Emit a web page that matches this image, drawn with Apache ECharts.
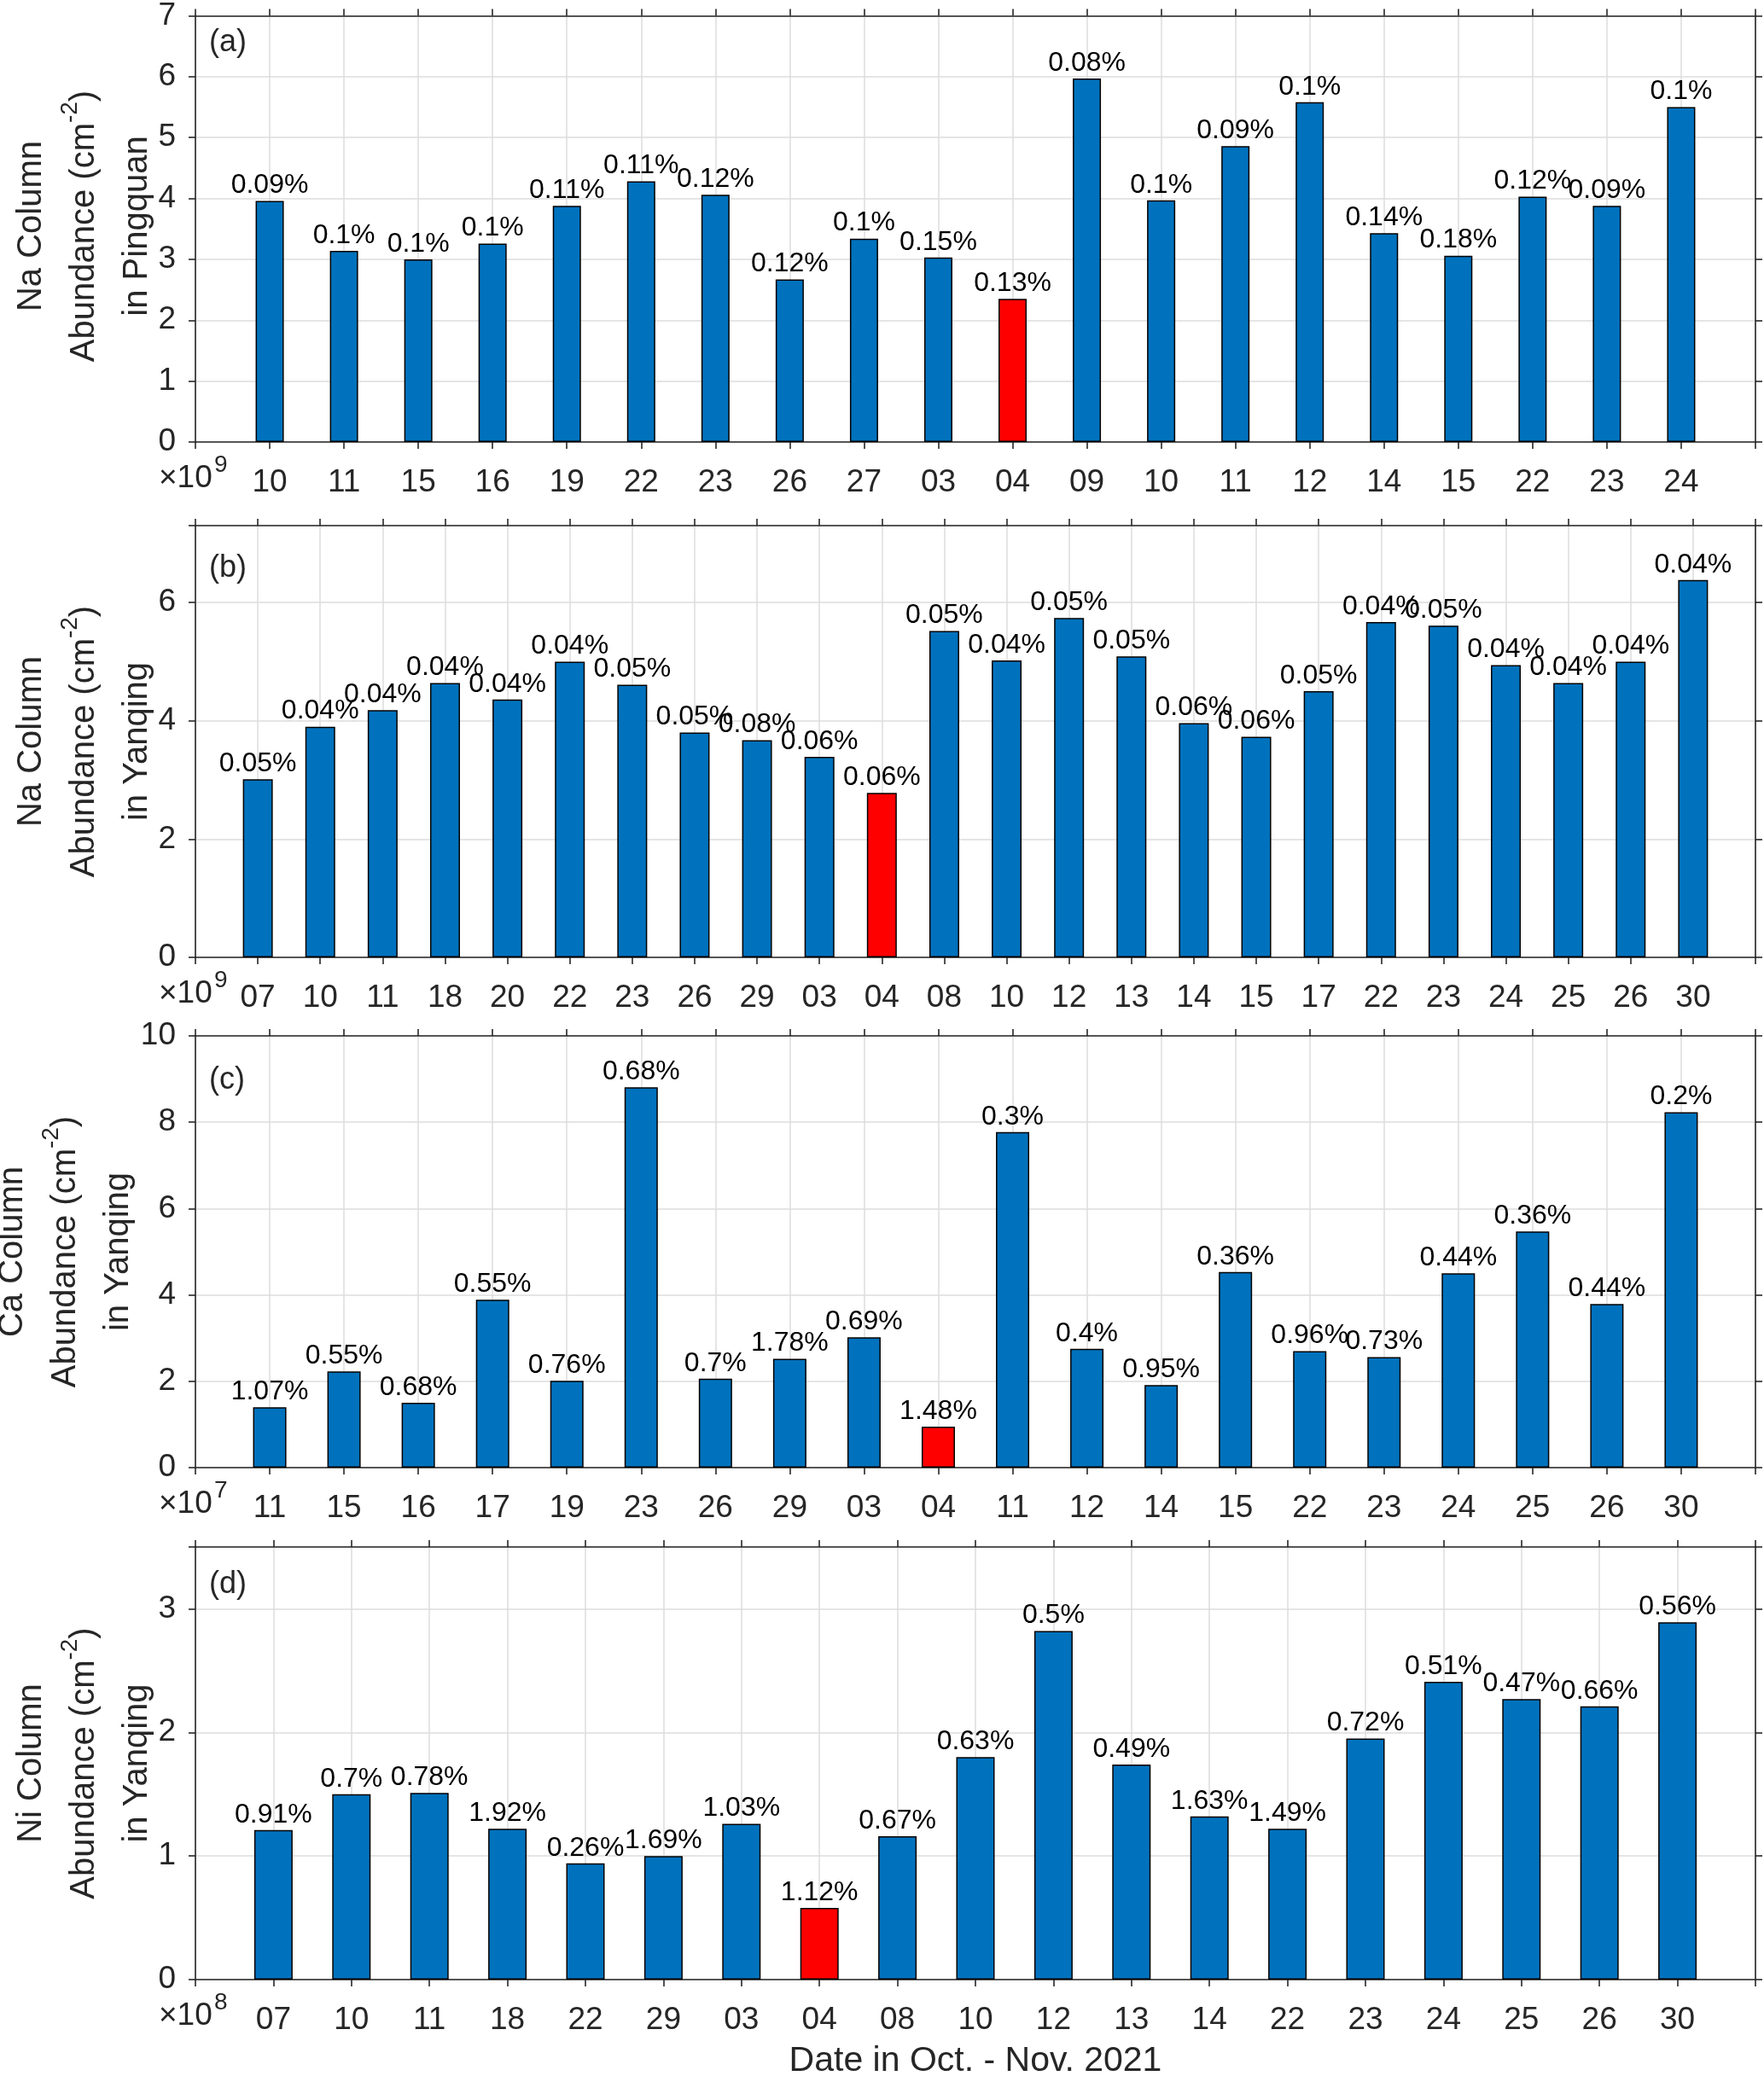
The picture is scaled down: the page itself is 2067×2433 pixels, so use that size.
<!DOCTYPE html>
<html>
<head>
<meta charset="utf-8">
<script src="https://cdn.jsdelivr.net/npm/echarts@6/dist/echarts.min.js"></script>
<style>
  html, body { margin: 0; padding: 0; background: #fff; }
  #chart { width: 2067px; height: 2433px; }
</style>
</head>
<body>
<div id="chart"></div>
<script>
// ---------------- data ----------------
// (a) Na column abundance in Pingquan (x10^9 cm^-2)
const datesA = ['10','11','15','16','19','22','23','26','27','03','04','09','10','11','12','14','15','22','23','24'];
const valuesA = [3.96,3.14,3.00,3.26,3.88,4.28,4.06,2.67,3.34,3.03,2.35,5.97,3.97,4.86,5.58,3.43,3.06,4.03,3.88,5.50];
const pctA = ['0.09%','0.1%','0.1%','0.1%','0.11%','0.11%','0.12%','0.12%','0.1%','0.15%','0.13%','0.08%','0.1%','0.09%','0.1%','0.14%','0.18%','0.12%','0.09%','0.1%'];

// (b) Na column abundance in Yanqing (x10^9 cm^-2)
const datesB = ['07','10','11','18','20','22','23','26','29','03','04','08','10','12','13','14','15','17','22','23','24','25','26','30'];
const valuesB = [3.01,3.90,4.18,4.64,4.36,5.00,4.61,3.80,3.67,3.39,2.78,5.52,5.02,5.74,5.09,3.96,3.73,4.50,5.67,5.61,4.94,4.64,5.00,6.38];
const pctB = ['0.05%','0.04%','0.04%','0.04%','0.04%','0.04%','0.05%','0.05%','0.08%','0.06%','0.06%','0.05%','0.04%','0.05%','0.05%','0.06%','0.06%','0.05%','0.04%','0.05%','0.04%','0.04%','0.04%','0.04%'];

// (c) Ca column abundance in Yanqing (x10^7 cm^-2)
const datesC = ['11','15','16','17','19','23','26','29','03','04','11','12','14','15','22','23','24','25','26','30'];
const valuesC = [1.40,2.23,1.50,3.89,2.01,8.81,2.06,2.52,3.02,0.95,7.77,2.75,1.91,4.53,2.70,2.56,4.50,5.47,3.79,8.23];
const pctC = ['1.07%','0.55%','0.68%','0.55%','0.76%','0.68%','0.7%','1.78%','0.69%','1.48%','0.3%','0.4%','0.95%','0.36%','0.96%','0.73%','0.44%','0.36%','0.44%','0.2%'];

// (d) Ni column abundance in Yanqing (x10^8 cm^-2)
const datesD = ['07','10','11','18','22','29','03','04','08','10','12','13','14','22','23','24','25','26','30'];
const valuesD = [1.21,1.50,1.51,1.22,0.94,1.00,1.26,0.58,1.16,1.80,2.82,1.74,1.32,1.22,1.95,2.41,2.27,2.21,2.89];
const pctD = ['0.91%','0.7%','0.78%','1.92%','0.26%','1.69%','1.03%','1.12%','0.67%','0.63%','0.5%','0.49%','1.63%','1.49%','0.72%','0.51%','0.47%','0.66%','0.56%'];

const panelTags = ['(a)','(b)','(c)','(d)'];
const elements = ['Na','Na','Ca','Ni'];
const sites = ['Pingquan','Yanqing','Yanqing','Yanqing'];
const exponents = ['9','9','7','8'];
const yMaxes = [7, 7.3, 10, 3.5];
const yIntervals = [1, 2, 2, 1];
const xTitle = 'Date in Oct. - Nov. 2021';
const highlightDate = '04';

// ---------------- layout / style ----------------
const F = "'Liberation Sans', Arial, Helvetica, sans-serif";
const AX = '#262626';
const BLUE = '#0072BD';
const RED = '#FF0000';
const GRID_C = '#dcdcdc';
const LEFT = 229, WIDTH = 1828;
const tops = [12, 616, 1214, 1813];
const heights = [506, 506, 506, 507];
const barWidths = [33, 35, 39, 45];
const titleX = [99, 99, 77, 99];
const tagY = [50, 666, 1266, 1857];

const allDates = [datesA, datesB, datesC, datesD];
const allValues = [valuesA, valuesB, valuesC, valuesD];
const allPct = [pctA, pctB, pctC, pctD];

const grids = [], xAxes = [], yAxes = [], series = [], graphics = [];

for (let i = 0; i < 4; i++) {
  const cats = allDates[i], vals = allValues[i], pcts = allPct[i];
  const n = cats.length;
  const yMax = yMaxes[i], yInt = yIntervals[i];
  grids.push({ left: LEFT, width: WIDTH, top: tops[i], height: heights[i], containLabel: false });

  const lineStyle = { color: AX, width: 1.6 };
  // bottom x axis
  xAxes.push({
    type: 'value', gridIndex: i, position: 'bottom', min: 0, max: n + 1, interval: 1,
    axisLine: { show: true, onZero: false, lineStyle },
    axisTick: { show: true, inside: false, length: 8, lineStyle },
    axisLabel: {
      show: true, margin: 29, fontSize: 37, color: AX, fontFamily: F,
      formatter: v => (v >= 1 && v <= n && Number.isInteger(v)) ? cats[v - 1] : ''
    },
    splitLine: { show: true, lineStyle: { color: GRID_C, width: 1.5 } }
  });
  // top x axis (box)
  xAxes.push({
    type: 'value', gridIndex: i, position: 'top', min: 0, max: n + 1, interval: 1,
    axisLine: { show: true, onZero: false, lineStyle },
    axisTick: { show: true, inside: false, length: 8, lineStyle },
    axisLabel: { show: false }, splitLine: { show: false }
  });
  // left y axis
  yAxes.push({
    type: 'value', gridIndex: i, position: 'left', min: 0, max: yMax, interval: yInt,
    axisLine: { show: true, onZero: false, lineStyle },
    axisTick: { show: true, inside: false, length: 8, lineStyle },
    axisLabel: {
      show: true, margin: 23, fontSize: 37, color: AX, fontFamily: F,
      formatter: v => (Math.abs(v / yInt - Math.round(v / yInt)) < 1e-9) ? String(v) : ''
    },
    splitLine: { show: true, lineStyle: { color: GRID_C, width: 1.5 } }
  });
  // right y axis (box)
  yAxes.push({
    type: 'value', gridIndex: i, position: 'right', min: 0, max: yMax, interval: yInt,
    axisLine: { show: true, onZero: false, lineStyle },
    axisTick: { show: true, inside: false, length: 8, lineStyle },
    axisLabel: { show: false }, splitLine: { show: false }
  });

  series.push({
    type: 'bar', xAxisIndex: 2 * i, yAxisIndex: 2 * i, barWidth: barWidths[i], z: 3,
    data: vals.map((v, k) => ({
      value: [k + 1, v],
      itemStyle: { color: cats[k] === highlightDate ? RED : BLUE }
    })),
    itemStyle: { borderColor: '#000', borderWidth: 1.5 },
    label: {
      show: true, position: 'top', distance: 2, fontSize: 32, color: '#000', fontFamily: F,
      formatter: p => pcts[p.dataIndex]
    },
    emphasis: { disabled: true }
  });

  const panelBottom = tops[i] + heights[i];
  const panelMid = tops[i] + heights[i] / 2;

  // y-axis title (3 lines, rotated)
  graphics.push({
    type: 'text', x: titleX[i], y: panelMid, rotation: Math.PI / 2, z: 10,
    style: {
      text: '{t|' + elements[i] + ' Column}\n{t|Abundance (cm}{s|-2}{t|)}\n{t|in ' + sites[i] + '}',
      align: 'center', verticalAlign: 'middle', fill: AX,
      rich: {
        t: { fontSize: 40, lineHeight: 62, fontFamily: F, fill: AX },
        s: { fontSize: 28, lineHeight: 22, verticalAlign: 'top', fontFamily: F, fill: AX }
      }
    }
  });
  // panel tag
  graphics.push({
    type: 'text', x: 245, y: tagY[i], z: 10,
    style: { text: panelTags[i], fontSize: 36, fontFamily: F, fill: AX, align: 'left', verticalAlign: 'middle' }
  });
  // exponent label x10^n
  graphics.push({
    type: 'text', x: 186, y: panelBottom + 43, z: 10,
    style: { text: '×10', fontSize: 37, fontFamily: F, fill: AX, align: 'left', verticalAlign: 'middle' }
  });
  graphics.push({
    type: 'text', x: 251, y: panelBottom + 27, z: 10,
    style: { text: exponents[i], fontSize: 28, fontFamily: F, fill: AX, align: 'left', verticalAlign: 'middle' }
  });
}

// x-axis title
graphics.push({
  type: 'text', x: LEFT + WIDTH / 2, y: 2416, z: 10,
  style: { text: xTitle, fontSize: 41, fontFamily: F, fill: AX, align: 'center', verticalAlign: 'middle' }
});

const chart = echarts.init(document.getElementById('chart'), null, { renderer: 'canvas' });
chart.setOption({
  backgroundColor: '#fff',
  animation: false,
  grid: grids,
  xAxis: xAxes,
  yAxis: yAxes,
  series: series,
  graphic: graphics
});
</script>
</body>
</html>
